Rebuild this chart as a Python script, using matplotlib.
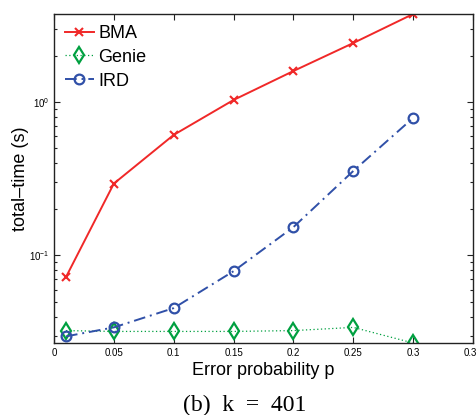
import matplotlib
matplotlib.use("Agg")
import matplotlib.pyplot as plt
import matplotlib.transforms as mtransforms
from matplotlib.ticker import LogLocator, NullFormatter, FixedLocator, FixedFormatter

# Error probabilities and measured run times (seconds)
p = [0.01, 0.05, 0.1, 0.15, 0.2, 0.25, 0.3]
bma = [0.0723, 0.294, 0.61, 1.03, 1.59, 2.42, 3.74]
genie = [0.0324, 0.032, 0.032, 0.032, 0.0324, 0.034, 0.0269]
ird = [0.0297, 0.034, 0.0454, 0.079, 0.153, 0.355, 0.787]

xticks = [0, 0.05, 0.1, 0.15, 0.2, 0.25, 0.3, 0.35]
xticklabels = ["0", "0.05", "0.1", "0.15", "0.2", "0.25", "0.3", "0.3"]

plt.rcParams["font.family"] = ["Liberation Sans", "DejaVu Sans"]
plt.rcParams["mathtext.fontset"] = "custom"
plt.rcParams["mathtext.rm"] = "Liberation Sans"
plt.rcParams["mathtext.it"] = "Liberation Sans"

fig = plt.figure(figsize=(4.77, 4.15), dpi=100)
ax = fig.add_axes([54 / 477, 1 - 343 / 415, 419 / 477, 329 / 415])

red = "#f02828"
green = "#00a040"
blue = "#3050a8"

ax.plot(p, bma, color=red, lw=1.4, ls="-", marker="x", ms=6, mew=1.5,
        label="BMA")
ax.plot(p, genie, color=green, lw=0.9, ls=(0, (1, 2)), marker="d", ms=8,
        mew=1.6, mfc="none", label="Genie")
ax.plot(p, ird, color=blue, lw=1.4, ls=(0, (6, 2.5, 1, 2.5)), marker="o",
        ms=7, mew=1.6, mfc="none", label="IRD")

ax.set_yscale("log")
ax.set_xlim(0, 0.35)
ax.set_ylim(min(min(bma), min(genie), min(ird)), max(max(bma), max(genie), max(ird)))

ax.xaxis.set_major_locator(FixedLocator(xticks))
ax.xaxis.set_major_formatter(FixedFormatter(xticklabels))
ax.yaxis.set_major_locator(LogLocator(base=10))
ax.yaxis.set_minor_locator(LogLocator(base=10, subs=range(2, 10)))
ax.yaxis.set_minor_formatter(NullFormatter())

ax.tick_params(which="both", direction="in", top=True, right=True,
               labelsize=7, width=0.8, color="#222222")
ax.tick_params(which="major", length=4)
ax.tick_params(which="minor", length=2.5)
for s in ax.spines.values():
    s.set_linewidth(1.0)
    s.set_color("#222222")

# keep the right-most tick label inside the figure
last = ax.get_xticklabels()[-1]
last.set_transform(last.get_transform()
                   + mtransforms.ScaledTranslation(-3 / 100, 0, fig.dpi_scale_trans))

ax.set_xlabel("Error probability p", fontsize=13, labelpad=3)
ax.set_ylabel("total\u2013time (s)", fontsize=13, labelpad=0)

leg = ax.legend(loc="upper left", fontsize=13, frameon=False,
                handlelength=1.6, handletextpad=0.25, labelspacing=0.38,
                borderaxespad=0.2)

fig.text(245 / 477, 1 - 405 / 415, "(b)  k  =  401", ha="center", va="center",
         fontsize=17, family="Liberation Serif")

fig.savefig("out.png", dpi=100)
